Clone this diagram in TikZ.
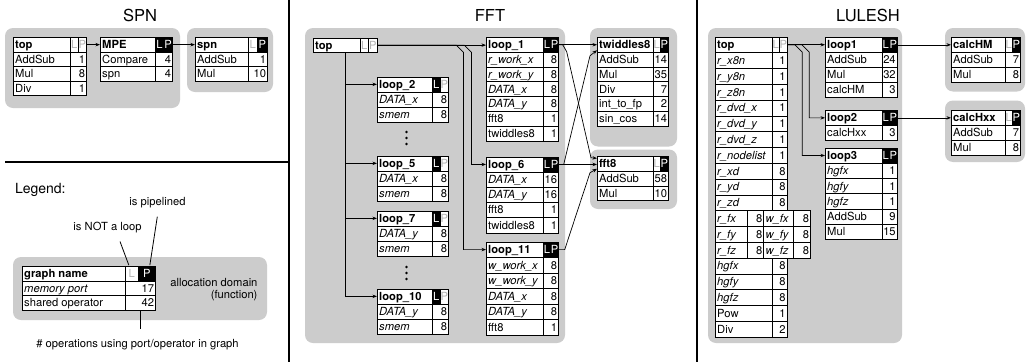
\documentclass[tikz,border=0pt]{standalone}
\usepackage{fontspec}
\setmainfont{TeX Gyre Heros}
\usetikzlibrary{arrows.meta,calc}
\definecolor{domgray}{RGB}{204,204,204}
\definecolor{offgray}{RGB}{180,180,180}
\newcommand\tbfont{\fontsize{11.2}{13}\selectfont}
\newcommand\tbw[4]{\def\nw{#1}\def\lw{#2}\def\pw{#3}\def\rh{#4}\pgfmathsetmacro\vw{#2+#3}}
\newcommand\cbL[6]{%
  \node[cell, minimum width=#4, minimum height=#5] (#1) at (#2,#3) {};
  \node[ctext, anchor=west] (#1-t) at (#1.west) {#6};}
\newcommand\cbR[6]{%
  \node[cell, minimum width=#4, minimum height=#5] (#1) at (#2,#3) {};
  \node[ctext, anchor=east, inner xsep=1.5pt] (#1-t) at (#1.east) {#6};}
\newcommand\tbhead[6]{%
  \def\tx{#2}\def\ty{#3}\def\tid{#1}%
  \cbL{#1}{#2}{#3}{\nw}{\rh}{\bfseries #4}%
  \node[#5, minimum width=\lw, minimum height=\rh] (#1-L) at (#2+\nw,#3) {L};
  \node[#6, minimum width=\pw, minimum height=\rh] (#1-P) at (#2+\nw+\lw,#3) {P};}
\newcommand\tbrowx[4]{%
  \cbL{\tid-n#1}{\tx}{\ty+#1*\rh}{\nw}{\rh}{#2#3}%
  \cbR{\tid-v#1}{\tx+\nw}{\ty+#1*\rh}{\vw}{\rh}{#4}}
\newcommand\tbrow[3]{\tbrowx{#1}{}{#2}{#3}}
\newcommand\tbrowi[3]{\tbrowx{#1}{\itshape}{#2}{#3}}
\tikzset{
 cell/.style={draw=black, line width=0.7pt, fill=white, inner sep=0pt, anchor=north west},
 ctext/.style={inner xsep=2pt, inner ysep=0pt, text height=7.8pt, text depth=0pt},
 lpon/.style={cell, fill=black, text=white, text height=7.8pt, text depth=0pt},
 lpoff/.style={cell, fill=white, text=offgray, text height=7.8pt, text depth=0pt},
 dombox/.style={fill=domgray, rounded corners=8pt},
 conn/.style={line width=0.7pt, -{Stealth[length=4.5pt,width=3.4pt]}},
 leader/.style={line width=0.8pt},
 divider/.style={line width=1.6pt},
 title/.style={font=\fontsize{16.5}{18}\selectfont, anchor=base},
}
\begin{document}
\begin{tikzpicture}[x=1pt,y=-1pt,font=\tbfont]
\useasboundingbox (0,0) rectangle (1026,362);
\fill[white] (0,0) rectangle (1026,362);
% titles
\node[title] (t-spn) at (140,21) {SPN};
\node[title] (t-fft) at (490,21) {FFT};
\node[title] (t-lu) at (868,21) {LULESH};
% dividers
\draw[divider] (289,0) -- (289,362);
\draw[divider] (5,161.7) -- (289,161.7);
\draw[divider] (697,0) -- (697,362);
% ---------------- SPN
\fill[dombox] (5,28) rectangle (180,108);
\fill[dombox] (187,28) rectangle (273,92);
\tbw{57}{8}{8}{14.6}
\tbhead{s-top}{13}{37}{top}{lpoff}{lpoff}
\tbrow{1}{AddSub}{1}
\tbrow{2}{Mul}{8}
\tbrow{3}{Div}{1}
\tbw{55}{8.5}{8.5}{14.6}
\tbhead{s-mpe}{100}{37}{MPE}{lpon}{lpon}
\tbrow{1}{Compare}{4}
\tbrow{2}{spn}{4}
\tbw{53}{9}{10}{14.6}
\tbhead{s-spn}{195}{37}{spn}{lpoff}{lpon}
\tbrow{1}{AddSub}{1}
\tbrow{2}{Mul}{10}
\draw[conn] (s-top-P.east) -- (s-top-P.east -| s-mpe.west);
\draw[conn] (s-mpe-P.east) -- (s-mpe-P.east -| s-spn.west);
% ---------------- Legend
\node[anchor=base west, font=\fontsize{14}{16}\selectfont] (leg-title) at (11.5,193.5) {Legend:};
\fill[dombox] (13,257) rectangle (267,320);
\tbw{103}{13}{17}{14.6}
\tbhead{leg}{22}{266}{graph name}{lpoff}{lpon}
\tbrowi{1}{memory port}{17}
\tbrow{2}{shared operator}{42}
\node[anchor=base] (leg-pipe) at (157.5,205.5) {is pipelined};
\node[anchor=base] (leg-notloop) at (107.5,230.5) {is NOT a loop};
\node[anchor=base] (leg-ops) at (137.5,347.5) {\# operations using port/operator in graph};
\node[anchor=base east] (leg-dom1) at (261,286.7) {allocation domain};
\node[anchor=base east] (leg-dom2) at (261,298.3) {(function)};
\coordinate (leg-c1) at (120,241.5);
\coordinate (leg-c2) at (157.3,216.7);
\draw[leader] (leg-c1) -- ($(leg-L.north)+(-3,-0.8)$);
\draw[leader] (leg-c2) -- ($(leg-P.north)+(3,-0.8)$);
\draw[leader] (leg-v2.south) -- ++(0,18);
% ---------------- FFT
\fill[dombox] (305,28) rectangle (565,343);
\fill[dombox] (590,28) rectangle (677,146.5);
\fill[dombox] (590,149.5) rectangle (677,209);
\tbw{47}{8}{9}{14.6}
\tbhead{f-top}{313}{37.5}{top}{lpoff}{lpoff}
\tbw{55}{8}{8}{15}
\tbhead{f-l2}{377}{76.5}{loop\_2}{lpon}{lpoff}
\tbrowi{1}{DATA\_x}{8}
\tbrowi{2}{smem}{8}
\tbhead{f-l5}{377}{155.5}{loop\_5}{lpon}{lpoff}
\tbrowi{1}{DATA\_x}{8}
\tbrowi{2}{smem}{8}
\tbhead{f-l7}{377}{210.5}{loop\_7}{lpon}{lpoff}
\tbrowi{1}{DATA\_y}{8}
\tbrowi{2}{smem}{8}
\tbhead{f-l10}{377}{288.5}{loop\_10}{lpon}{lpoff}
\tbrowi{1}{DATA\_y}{8}
\tbrowi{2}{smem}{8}
\tbw{57}{7.5}{7.5}{14.8}
\tbhead{f-l1}{486}{37}{loop\_1}{lpon}{lpon}
\tbrowi{1}{r\_work\_x}{8}
\tbrowi{2}{r\_work\_y}{8}
\tbrowi{3}{DATA\_x}{8}
\tbrowi{4}{DATA\_y}{8}
\tbrow{5}{fft8}{1}
\tbrow{6}{twiddles8}{1}
\tbw{57}{7.5}{7.5}{15.2}
\tbhead{f-l6}{486}{156.5}{loop\_6}{lpon}{lpon}
\tbrowi{1}{DATA\_x}{16}
\tbrowi{2}{DATA\_y}{16}
\tbrow{3}{fft8}{1}
\tbrow{4}{twiddles8}{1}
\tbw{57}{7.5}{7.5}{15.5}
\tbhead{f-l11}{486}{241.5}{loop\_11}{lpon}{lpon}
\tbrowi{1}{w\_work\_x}{8}
\tbrowi{2}{w\_work\_y}{8}
\tbrowi{3}{DATA\_x}{8}
\tbrowi{4}{DATA\_y}{8}
\tbrow{5}{fft8}{1}
\tbw{56}{7}{8}{14.8}
\tbhead{f-tw}{597}{37}{twiddles8}{lpoff}{lpon}
\tbrow{1}{AddSub}{14}
\tbrow{2}{Mul}{35}
\tbrow{3}{Div}{7}
\tbrow{4}{int\_to\_fp}{2}
\tbrow{5}{sin\_cos}{14}
\tbhead{f-f8}{597}{156}{fft8}{lpoff}{lpon}
\tbrow{1}{AddSub}{58}
\tbrow{2}{Mul}{10}
\fill (406.5,132) circle (1.3pt) (406.5,138) circle (1.3pt) (406.5,144) circle (1.3pt);
\fill (406.5,267) circle (1.3pt) (406.5,273) circle (1.3pt) (406.5,279) circle (1.3pt);
\draw[conn] ([xshift=8.5pt]f-top.south) |- (f-l2.west);
\draw[conn] ([xshift=8.5pt]f-top.south) |- (f-l5.west);
\draw[conn] ([xshift=8.5pt]f-top.south) |- (f-l7.west);
\draw[conn] ([xshift=8.5pt]f-top.south) |- (f-l10.west);
\draw[conn] (f-top-P.east) -- (f-top-P.east -| f-l1.west);
\draw[conn] (f-top-P.east) -- ++(78.5,0) -- ++(7.3,7.3) |- (f-l11.west);
\draw[conn] (f-top-P.east) -- ++(86.5,0) -- ++(7.3,7.3) |- (f-l6.west);
\draw[conn] (f-l1-P.east) -- (f-l1-P.east -| f-tw.west);
\draw[conn] (f-l1-P.east) -- ++(4,0) -- ++(4,7) -- ($(f-f8.west)+(-6,-6)$) -- ($(f-f8.west)+(0,-5.5)$);
\draw[conn] (f-l6-P.east) -- (f-l6-P.east -| f-f8.west);
\draw[conn] (f-l6-P.east) -- ++(5,0) -- ($(f-tw.west)+(-7,11)$) -- ($(f-tw.west)+(0,5.5)$);
\draw[conn] (f-l11-P.east) -- ++(6,0) -- ($(f-f8.west)+(-7,9)$) -- ($(f-f8.west)+(0,5)$);
% ---------------- LULESH
\fill[dombox] (708,28) rectangle (902,343);
\fill[dombox] (945,28) rectangle (1025,91.5);
\fill[dombox] (945,100.5) rectangle (1025,162);
\tbw{56.7}{7.5}{7.5}{15.8}
\tbhead{l-top}{715}{36.5}{top}{lpoff}{lpoff}
\tbrowi{1}{r\_x8n}{1}
\tbrowi{2}{r\_y8n}{1}
\tbrowi{3}{r\_z8n}{1}
\tbrowi{4}{r\_dvd\_x}{1}
\tbrowi{5}{r\_dvd\_y}{1}
\tbrowi{6}{r\_dvd\_z}{1}
\tbrowi{7}{r\_nodelist}{1}
\tbrowi{8}{r\_xd}{8}
\tbrowi{9}{r\_yd}{8}
\tbrowi{10}{r\_zd}{8}
\cbL{l-top-n11}{715}{36.5+11*15.8}{31.7}{15.8}{\itshape r\_fx}
\cbR{l-top-v11}{746.7}{36.5+11*15.8}{16.6}{15.8}{8}
\cbL{l-top-w11}{763.3}{36.5+11*15.8}{30}{15.8}{\itshape w\_fx}
\cbR{l-top-x11}{793.3}{36.5+11*15.8}{16.7}{15.8}{8}
\cbL{l-top-n12}{715}{36.5+12*15.8}{31.7}{15.8}{\itshape r\_fy}
\cbR{l-top-v12}{746.7}{36.5+12*15.8}{16.6}{15.8}{8}
\cbL{l-top-w12}{763.3}{36.5+12*15.8}{30}{15.8}{\itshape w\_fy}
\cbR{l-top-x12}{793.3}{36.5+12*15.8}{16.7}{15.8}{8}
\cbL{l-top-n13}{715}{36.5+13*15.8}{31.7}{15.8}{\itshape r\_fz}
\cbR{l-top-v13}{746.7}{36.5+13*15.8}{16.6}{15.8}{8}
\cbL{l-top-w13}{763.3}{36.5+13*15.8}{30}{15.8}{\itshape w\_fz}
\cbR{l-top-x13}{793.3}{36.5+13*15.8}{16.7}{15.8}{8}
\tbrowi{14}{hgfx}{8}
\tbrowi{15}{hgfy}{8}
\tbrowi{16}{hgfz}{8}
\tbrow{17}{Pow}{1}
\tbrow{18}{Div}{2}
\tbw{56.7}{7.5}{7.5}{15}
\tbhead{l-l1}{825}{37}{loop1}{lpon}{lpon}
\tbrow{1}{AddSub}{24}
\tbrow{2}{Mul}{32}
\tbrow{3}{calcHM}{3}
\tbhead{l-l2}{825}{110}{loop2}{lpon}{lpon}
\tbrow{1}{calcHxx}{3}
\tbw{56.7}{7.5}{7.5}{15.3}
\tbhead{l-l3}{825}{147.5}{loop3}{lpon}{lpon}
\tbrowi{1}{hgfx}{1}
\tbrowi{2}{hgfy}{1}
\tbrowi{3}{hgfz}{1}
\tbrow{4}{AddSub}{9}
\tbrow{5}{Mul}{15}
\tbw{54}{7}{8}{15}
\tbhead{l-hm}{951}{37}{calcHM}{lpoff}{lpon}
\tbrow{1}{AddSub}{7}
\tbrow{2}{Mul}{8}
\tbhead{l-hx}{951}{110}{calcHxx}{lpoff}{lpon}
\tbrow{1}{AddSub}{7}
\tbrow{2}{Mul}{8}
\draw[conn] (l-top-P.east) -- (l-top-P.east -| l-l1.west);
\draw[conn] (l-top-P.east) -- ++(7.5,0) -- ++(7.3,7.3) |- (l-l3.west);
\draw[conn] (l-top-P.east) -- ++(14.5,0) -- ++(7.3,7.3) |- (l-l2.west);
\draw[conn] (l-l1-P.east) -- (l-l1-P.east -| l-hm.west);
\draw[conn] (l-l2-P.east) -- (l-l2-P.east -| l-hx.west);
\end{tikzpicture}
\end{document}
